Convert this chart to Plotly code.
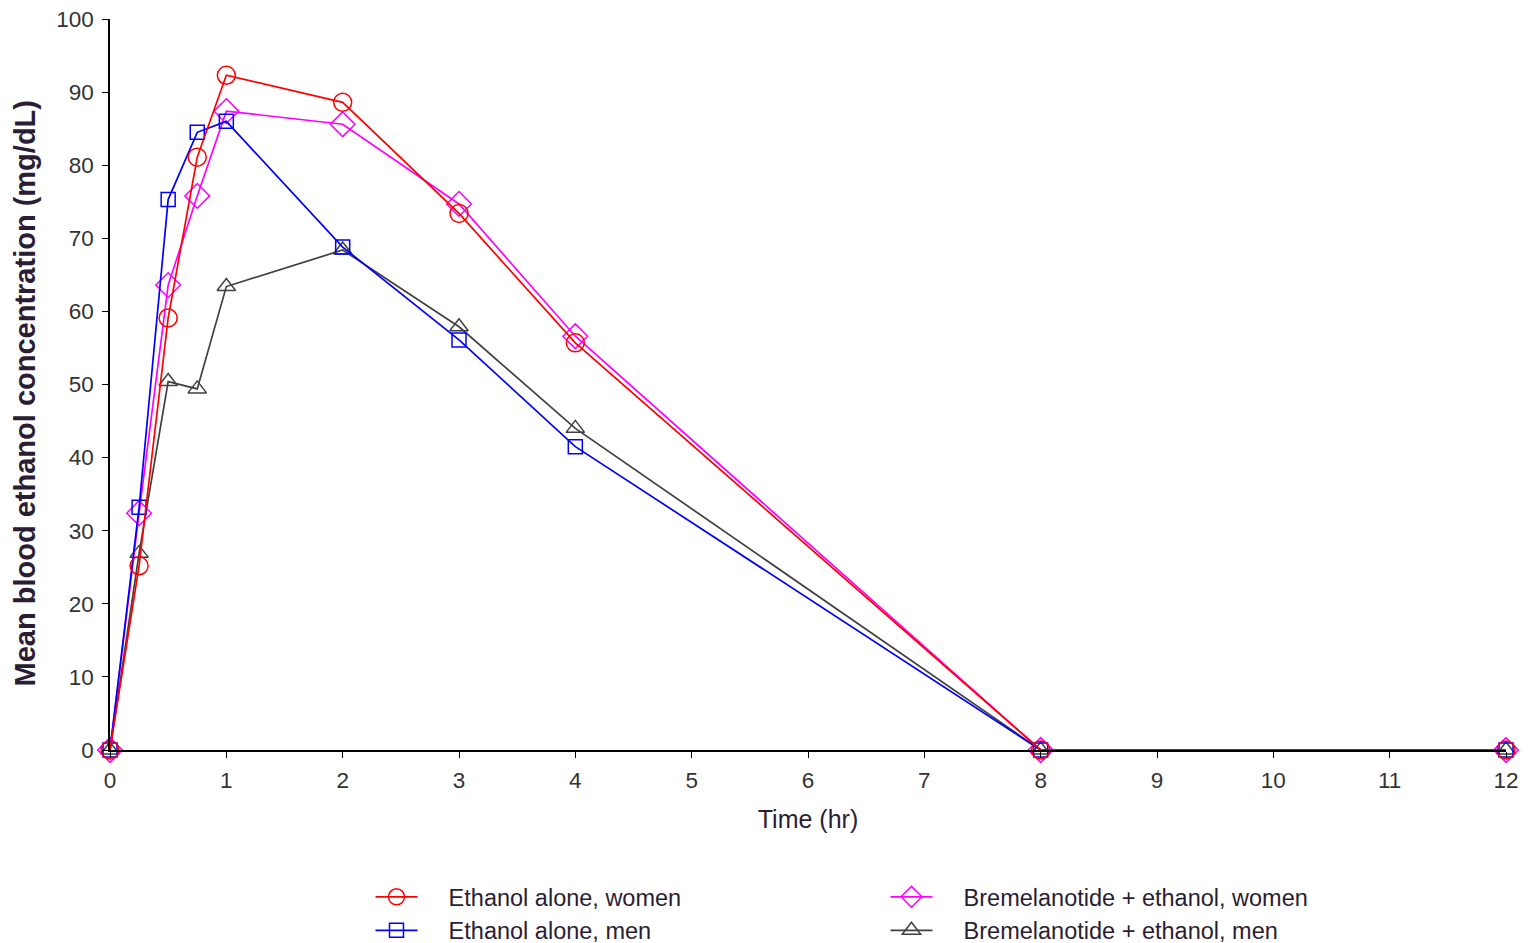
import plotly.graph_objects as go

time_hr = [0, 0.25, 0.5, 0.75, 1, 2, 3, 4, 8, 12]
ethanol_women = [0, 25.2, 59.1, 81.1, 92.3, 88.6, 73.4, 55.7, 0, 0]
ethanol_men = [0, 33.2, 75.3, 84.5, 86.0, 68.8, 56.1, 41.5, 0, 0]
brem_women = [0, 32.4, 63.6, 75.8, 87.4, 85.6, 74.7, 56.6, 0, 0]
brem_men = [0, 26.9, 50.4, 49.4, 63.4, 68.4, 57.9, 44.0, 0, 0]

x_ticks = list(range(0, 13))
y_ticks = list(range(0, 101, 10))

FONT = "Liberation Sans, Arial, sans-serif"
TXT = "#2b1d33"
PAD = "\u00a0\u00a0\u00a0\u00a0"

fig = go.Figure()

def add(name, y, color, symbol, size, legend, rank):
    fig.add_trace(go.Scatter(
        x=time_hr, y=y, name=PAD + name, mode="lines+markers",
        line=dict(color=color, width=1.7),
        marker=dict(symbol=symbol, size=size, color=color,
                    line=dict(color=color, width=1.5)),
        cliponaxis=False, legend=legend, legendrank=rank,
    ))

add("Bremelanotide + ethanol, men", brem_men, "#404040", "triangle-up-open", 16, "legend2", 2)
add("Bremelanotide + ethanol, women", brem_women, "#ff00ff", "diamond-open", 19, "legend2", 1)
add("Ethanol alone, men", ethanol_men, "#0000ff", "square-open", 14, "legend", 2)
add("Ethanol alone, women", ethanol_women, "#ff0000", "circle-open", 18, "legend", 1)

axis_common = dict(showgrid=False, zeroline=False, linecolor="#000", linewidth=1.5,
                   tickcolor="#000", tickwidth=1.3, ticklen=6, ticklabeloverflow="allow",
                   tickfont=dict(family=FONT, size=22.5, color="#333"))

legend_common = dict(yanchor="top", xanchor="left",
                     bgcolor="rgba(0,0,0,0)", itemwidth=42, tracegroupgap=0,
                     font=dict(family=FONT, size=23.5, color=TXT))

fig.update_layout(
    width=1528, height=943,
    margin=dict(l=110, r=22, t=19, b=193, autoexpand=False),
    plot_bgcolor="white", paper_bgcolor="white",
    showlegend=True,
    xaxis=dict(range=[0, 12], tickvals=x_ticks, ticks="outside", showline=True,
               title=dict(text="Time (hr)", font=dict(family=FONT, size=25, color=TXT), standoff=19),
               ticklabelstandoff=3, **axis_common),
    yaxis=dict(range=[0, 100], tickvals=y_ticks, ticks="outside", showline=True,
               ticklabelstandoff=4, **axis_common),
    xaxis2=dict(range=[0, 12], tickvals=x_ticks, ticks="inside", overlaying="x", anchor="y",
                showline=False, showticklabels=False, showgrid=False, zeroline=False,
                tickcolor="#000", tickwidth=1.3, ticklen=5),
    yaxis2=dict(range=[0, 100], tickvals=y_ticks, ticks="inside", overlaying="y", anchor="x",
                showline=False, showticklabels=False, showgrid=False, zeroline=False,
                tickcolor="#000", tickwidth=1.3, ticklen=6),
    legend=dict(x=0.1866, y=-0.171, **legend_common),
    legend2=dict(x=0.5555, y=-0.171, **legend_common),
    annotations=[dict(text="<b>Mean blood ethanol concentration (mg/dL)</b>",
                      xref="paper", yref="paper", x=-0.0602, y=0.4877,
                      xanchor="center", yanchor="middle", textangle=-90, showarrow=False,
                      font=dict(family=FONT, size=29, color=TXT))],
)

fig.write_html("out.html", config={"displayModeBar": False},
               post_script="document.body.style.margin='0';document.body.style.overflow='hidden';")
